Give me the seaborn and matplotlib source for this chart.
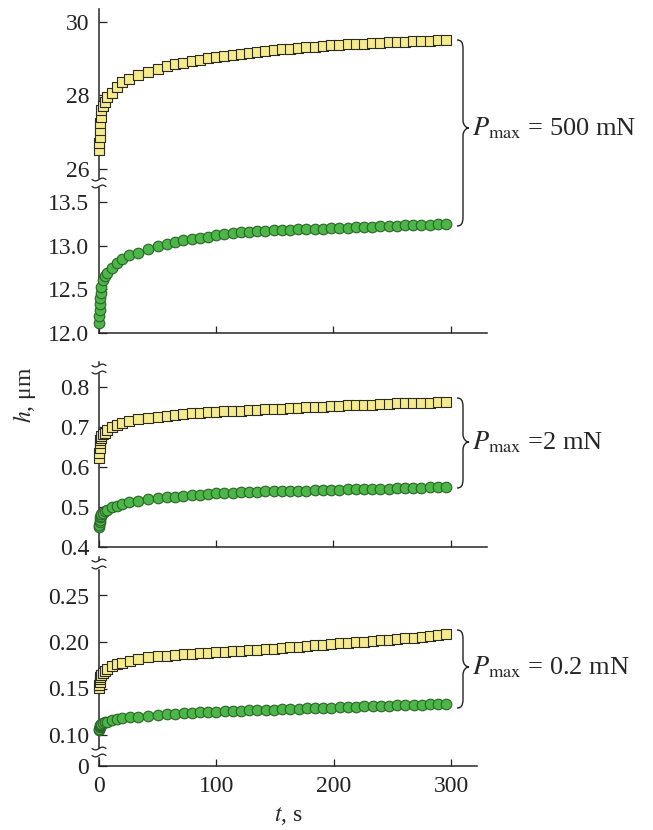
import matplotlib
matplotlib.use("Agg")
import matplotlib.pyplot as plt
import seaborn as sns
import numpy as np
from matplotlib.path import Path
from matplotlib.patches import PathPatch, Rectangle
from matplotlib.lines import Line2D

## Data ##
t = [0, 0.3, 0.6, 0.9, 1.2, 1.5, 2,
     3.4, 5, 7, 11, 15, 20, 26, 33, 42,
     50, 58, 65, 72, 79, 86, 93,
     100, 107, 114, 121, 128, 135, 142, 149, 156, 163,
     170, 177, 184, 191, 198, 205, 212, 219, 226, 233,
     240, 247, 254, 261, 268, 275, 282, 289, 296]

# Pmax = 500 mN
h500_sq = [26.52, 26.70, 26.87, 27.06, 27.25, 27.42, 27.60,
           27.72, 27.82, 27.96, 28.08, 28.22, 28.36, 28.46, 28.56, 28.65,
           28.73, 28.79, 28.85, 28.89, 28.93, 28.97, 29.01,
           29.04, 29.07, 29.10, 29.13, 29.16, 29.19, 29.21, 29.23, 29.25, 29.27,
           29.29, 29.31, 29.33, 29.34, 29.36, 29.37, 29.39, 29.40, 29.41, 29.42,
           29.43, 29.44, 29.45, 29.46, 29.47, 29.48, 29.49, 29.50, 29.51]
h500_ci = [12.11, 12.19, 12.26, 12.33, 12.40, 12.46, 12.53,
           12.61, 12.65, 12.69, 12.74, 12.80, 12.85, 12.89, 12.92, 12.96,
           13.00, 13.02, 13.04, 13.06, 13.07, 13.09, 13.10,
           13.12, 13.13, 13.14, 13.15, 13.16, 13.165, 13.17, 13.175, 13.18, 13.18,
           13.185, 13.19, 13.19, 13.195, 13.20, 13.20, 13.205, 13.21, 13.21, 13.215,
           13.22, 13.22, 13.225, 13.23, 13.235, 13.24, 13.24, 13.245, 13.25]
# Pmax = 2 mN
h2_sq = [0.622, 0.635, 0.647, 0.660, 0.667, 0.672, 0.677,
         0.683, 0.686, 0.692, 0.699, 0.705, 0.711, 0.715, 0.719, 0.7225,
         0.725, 0.727, 0.730, 0.732, 0.734, 0.735, 0.737,
         0.738, 0.739, 0.740, 0.741, 0.742, 0.743, 0.744, 0.745, 0.746, 0.747,
         0.748, 0.749, 0.750, 0.751, 0.752, 0.753, 0.754, 0.755, 0.756, 0.756,
         0.757, 0.758, 0.759, 0.759, 0.760, 0.761, 0.761, 0.762, 0.763]
h2_ci = [0.450, 0.456, 0.462, 0.468, 0.474, 0.478, 0.482,
         0.486, 0.490, 0.493, 0.499, 0.503, 0.508, 0.512, 0.515, 0.519,
         0.522, 0.524, 0.526, 0.528, 0.530, 0.531, 0.533,
         0.534, 0.535, 0.536, 0.537, 0.538, 0.538, 0.539, 0.539, 0.540, 0.540,
         0.541, 0.541, 0.542, 0.542, 0.543, 0.543, 0.544, 0.544, 0.545, 0.545,
         0.546, 0.546, 0.547, 0.547, 0.548, 0.548, 0.549, 0.549, 0.550]
# Pmax = 0.2 mN
h02_sq = [0.151, 0.154, 0.157, 0.160, 0.162, 0.164, 0.165,
          0.167, 0.169, 0.171, 0.1745, 0.1762, 0.1777, 0.1793, 0.1812, 0.1835,
          0.1845, 0.1853, 0.1860, 0.1867, 0.1873, 0.1878, 0.1883,
          0.1890, 0.1897, 0.1903, 0.1908, 0.1913, 0.1918, 0.1925, 0.1930, 0.1937, 0.1943,
          0.1950, 0.1957, 0.1963, 0.1970, 0.1977, 0.1984, 0.1990, 0.1997, 0.2004, 0.2010,
          0.2017, 0.2024, 0.2031, 0.2038, 0.2045, 0.2053, 0.2060, 0.2072, 0.2085]
h02_ci = [0.1053, 0.1068, 0.1082, 0.1095, 0.1105, 0.1112, 0.1118,
          0.1125, 0.1135, 0.1145, 0.1160, 0.1172, 0.1182, 0.1190, 0.1198, 0.1207,
          0.1215, 0.1222, 0.1228, 0.1234, 0.1239, 0.1244, 0.1248,
          0.1252, 0.1255, 0.1259, 0.1262, 0.1265, 0.1268, 0.1271, 0.1274, 0.1277, 0.1280,
          0.1283, 0.1286, 0.1289, 0.1292, 0.1295, 0.1298, 0.1301, 0.1304, 0.1307, 0.1310,
          0.1313, 0.1316, 0.1319, 0.1322, 0.1325, 0.1327, 0.1329, 0.1332, 0.1335]

x_ticks = [0, 100, 200, 300]
y_ticks_a1 = [26, 28, 30]
y_ticks_a2 = [12.0, 12.5, 13.0, 13.5]
y_ticks_a3 = [0.4, 0.5, 0.6, 0.7, 0.8]
y_ticks_a4 = [0.10, 0.15, 0.20, 0.25]
y_ticks_a5 = [0]
labels = [r"$P_{\mathrm{max}}$ = 500 mN", r"$P_{\mathrm{max}}$ =2 mN", r"$P_{\mathrm{max}}$ = 0.2 mN"]

## Style ##
sns.set_style("ticks")
plt.rcParams["font.family"] = ["Liberation Serif", "DejaVu Serif"]
plt.rcParams["mathtext.fontset"] = "stix"

W, H = 653, 830
fig = plt.figure(figsize=(W / 100, H / 100), dpi=100)

def fx(px):
    return px / W

def fy(py):
    return 1 - py / H

def make_axes(ytop, ybot, right=487):
    return fig.add_axes([fx(99), fy(ybot), fx(right - 99), (ybot - ytop) / H])

ax1 = make_axes(9, 183)
ax2 = make_axes(183, 333)
ax3 = make_axes(362, 547)
ax4 = make_axes(557, 752, right=477)
ax5 = make_axes(752, 766, right=477)

ax1.set_ylim(25.62, 30.35)
ax2.set_ylim(12.0, 13.716)
ax3.set_ylim(0.4, 0.8625)
ax4.set_ylim(0.10 - 17 / 930, 0.20 + 85 / 930)
ax5.set_ylim(0, 14 / 930)
for ax in (ax1, ax2, ax3):
    ax.set_xlim(0, 331)
for ax in (ax4, ax5):
    ax.set_xlim(0, 322)

yellow, yellow_edge = "#F5EA8C", "#2b2b22"
green, green_edge = "#4CB648", "#2A6427"
sq_kw = dict(marker="s", s=48, color=yellow, edgecolor=yellow_edge, linewidth=0.8, clip_on=False, zorder=3)
ci_kw = dict(marker="o", s=58, color=green, edgecolor=green_edge, linewidth=0.8, clip_on=False, zorder=3)

sns.scatterplot(x=t, y=h500_sq, ax=ax1, **sq_kw)
sns.scatterplot(x=t, y=h500_ci, ax=ax2, **ci_kw)
sns.scatterplot(x=t, y=h2_sq, ax=ax3, **sq_kw)
sns.scatterplot(x=t, y=h2_ci, ax=ax3, **ci_kw)
sns.scatterplot(x=t, y=h02_sq, ax=ax4, **sq_kw)
sns.scatterplot(x=t, y=h02_ci, ax=ax4, **ci_kw)

## Spines and ticks ##
for ax in (ax1, ax2, ax3, ax4, ax5):
    ax.set_facecolor("none")
    ax.spines["top"].set_visible(False)
    ax.spines["right"].set_visible(False)
    ax.spines["left"].set_linewidth(1.1)
    ax.spines["bottom"].set_linewidth(1.1)
    ax.tick_params(axis="y", direction="in", length=6, width=0.9, labelsize=17, pad=7, colors="#222222")
    ax.tick_params(axis="x", direction="in", length=5, width=0.9, labelsize=17, pad=7, colors="#222222")
    ax.set_xticks(x_ticks)
    ax.set_xlabel("")
    ax.set_ylabel("")

for ax in (ax1, ax4):
    ax.spines["bottom"].set_visible(False)
    ax.tick_params(axis="x", bottom=False, labelbottom=False)
for ax in (ax2, ax3):
    ax.tick_params(axis="x", labelbottom=False)

ax1.set_yticks(y_ticks_a1, [str(v) for v in y_ticks_a1])
ax2.set_yticks(y_ticks_a2, [f"{v:.1f}" for v in y_ticks_a2])
ax3.set_yticks(y_ticks_a3, [f"{v:.1f}" for v in y_ticks_a3])
ax4.set_yticks(y_ticks_a4, [f"{v:.2f}" for v in y_ticks_a4])
ax5.set_yticks(y_ticks_a5, ["0"])
ax5.set_xticks(x_ticks, [str(v) for v in x_ticks])

ax5.set_xlabel(r"$t$, s", fontsize=17, labelpad=6)
fig.text(fx(24), fy(395), r"$h$, μm", rotation=90, ha="center", va="center", fontsize=17)

## Axis break marks ##
def axis_break(yc, xc=99):
    gap = 3.5
    fig.add_artist(Rectangle((fx(xc - 3), fy(yc + gap)), fx(6), gap * 2 / H,
                             transform=fig.transFigure, color="white", zorder=5))
    xs = np.linspace(-7, 7, 30)
    for dy in (-gap, gap):
        ys = yc + dy - 1.4 * np.sin(np.pi * xs / 7)
        fig.add_artist(Line2D(fx(xc + xs), fy(ys), transform=fig.transFigure,
                              color="#222222", linewidth=0.9, zorder=6))

for yb in (183, 369, 564, 752):
    axis_break(yb)

## Braces and labels ##
def brace(ytop, ybot, ytip, x0=457, xm=463, xt=469):
    pts = [(x0, ytop), (x0 + 4, ytop), (xm, ytop + 2), (xm, ytop + 9),
           (xm, ytip - 8),
           (xm, ytip - 3), (xt - 3, ytip), (xt, ytip),
           (xt - 3, ytip), (xm, ytip + 3), (xm, ytip + 8),
           (xm, ybot - 9),
           (xm, ybot - 2), (x0 + 4, ybot), (x0, ybot)]
    codes = [Path.MOVETO, Path.CURVE4, Path.CURVE4, Path.CURVE4,
             Path.LINETO,
             Path.CURVE4, Path.CURVE4, Path.CURVE4,
             Path.CURVE4, Path.CURVE4, Path.CURVE4,
             Path.LINETO,
             Path.CURVE4, Path.CURVE4, Path.CURVE4]
    verts = [(fx(px), fy(py)) for px, py in pts]
    fig.add_artist(PathPatch(Path(verts, codes), transform=fig.transFigure,
                             facecolor="none", edgecolor="#222222", linewidth=1.0))

brace(40, 226, 128)
brace(398, 488, 442)
brace(630, 708, 667)

fig.text(fx(472), fy(128), labels[0], ha="left", va="center", fontsize=19)
fig.text(fx(472), fy(442), labels[1], ha="left", va="center", fontsize=19)
fig.text(fx(472), fy(667), labels[2], ha="left", va="center", fontsize=19)

fig.savefig("out.png", dpi=100)
